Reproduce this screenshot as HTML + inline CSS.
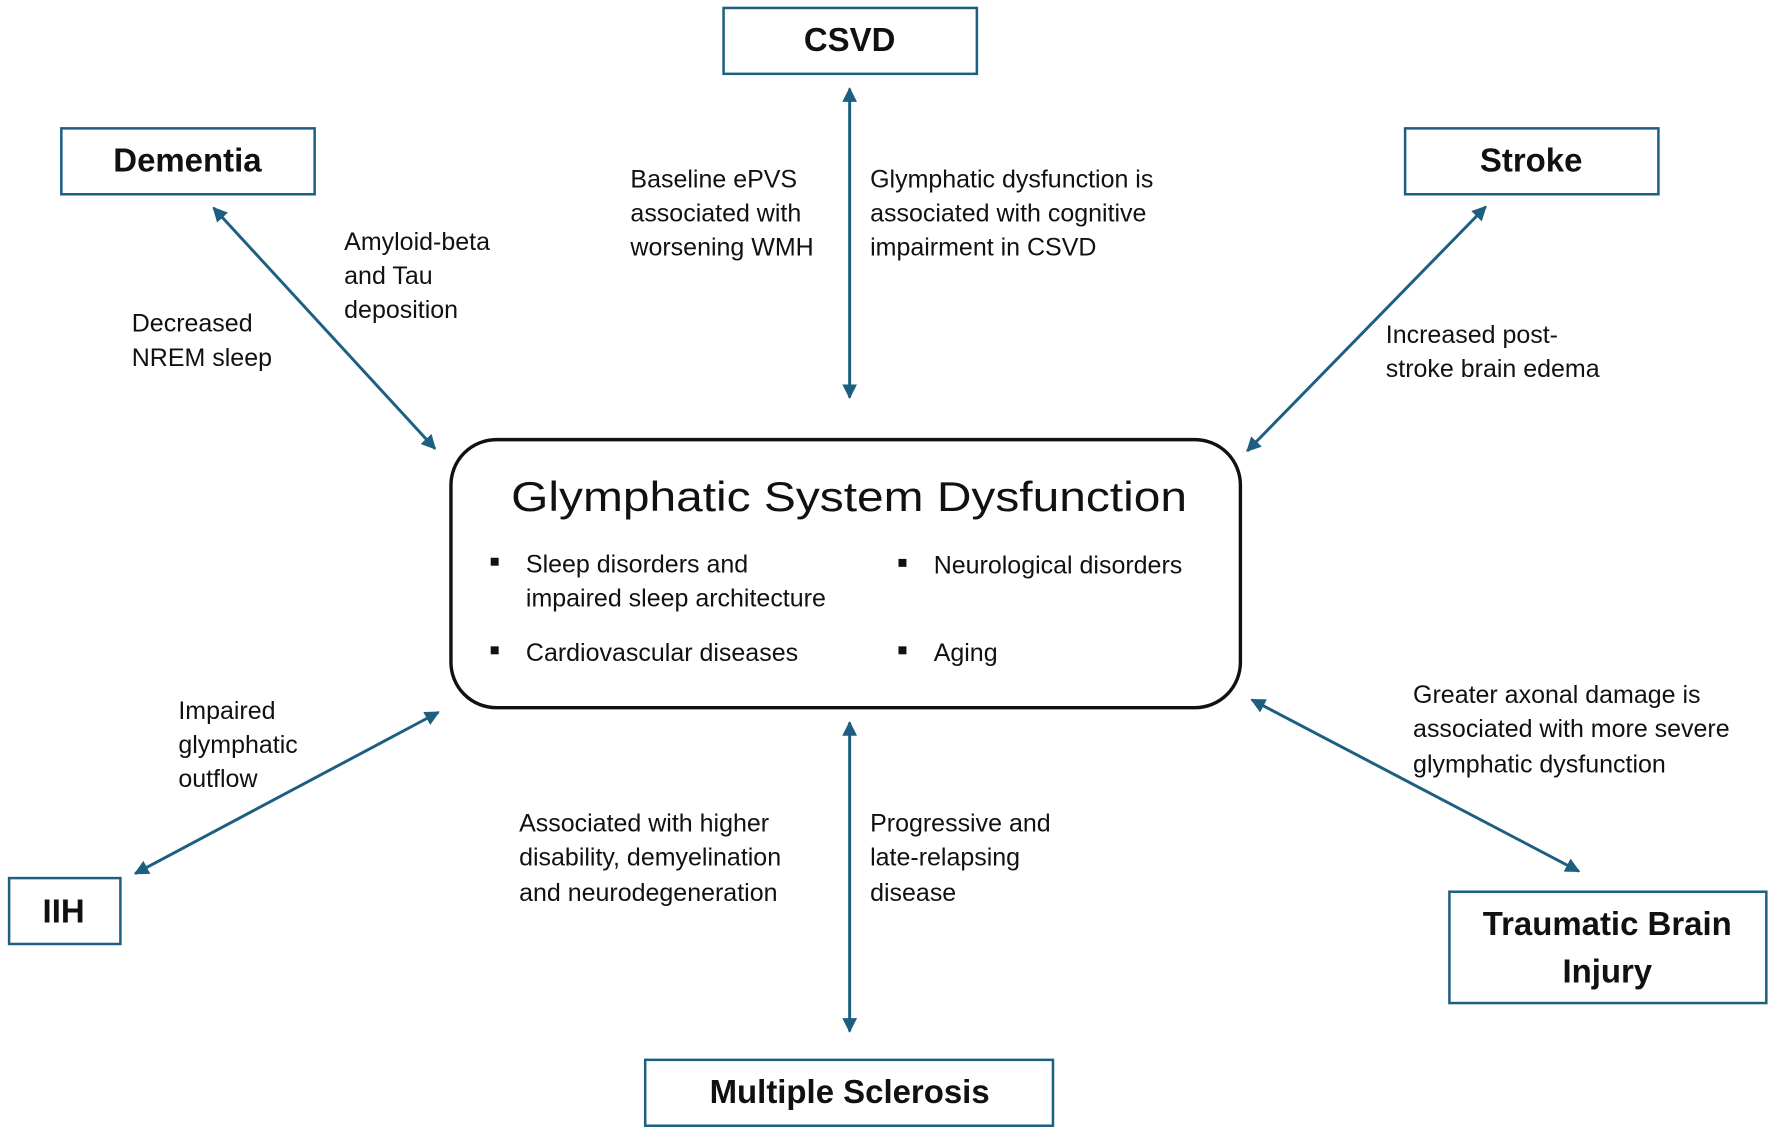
<!DOCTYPE html>
<html><head><meta charset="utf-8"><style>
html,body{margin:0;padding:0;background:#fff;}
svg{display:block;}
text{font-family:"Liberation Sans",sans-serif;fill:#111;}
.t{font-size:22px;}
.b{font-size:29px;font-weight:bold;text-anchor:middle;}
</style></head><body>
<svg width="1772" height="1128" viewBox="0 0 1560 993" preserveAspectRatio="none" xmlns="http://www.w3.org/2000/svg">
<defs>
<marker id="a" viewBox="0 0 10 10" refX="9" refY="5" markerWidth="5" markerHeight="5" orient="auto-start-reverse">
<path d="M0,0 L10,5 L0,10 z" fill="#1d5f80"/></marker>
</defs>
<g fill="#fff" stroke="#1d5f80" stroke-width="2.2">
<rect x="637" y="7" width="223" height="58"/>
<rect x="54" y="113" width="223" height="58"/>
<rect x="1237" y="113" width="223" height="58"/>
<rect x="8" y="773" width="98" height="58"/>
<rect x="1276" y="785" width="279" height="98"/>
<rect x="568" y="933" width="359" height="58"/>
</g>
<rect x="397" y="387" width="695" height="236" rx="40" fill="#fff" stroke="#111" stroke-width="3"/>
<g stroke="#1d5f80" stroke-width="2.6" marker-start="url(#a)" marker-end="url(#a)">
<line x1="748" y1="78" x2="748" y2="350"/>
<line x1="188" y1="183" x2="383" y2="395"/>
<line x1="1308" y1="182" x2="1098" y2="397"/>
<line x1="119" y1="769" x2="386" y2="627"/>
<line x1="1102" y1="616" x2="1390" y2="767"/>
<line x1="748" y1="636" x2="748" y2="908"/>
</g>
<text class="b" x="748" y="45">CSVD</text>
<text class="b" x="165" y="151">Dementia</text>
<text class="b" x="1348" y="151">Stroke</text>
<text class="b" x="56" y="812">IIH</text>
<text class="b" x="1415" y="823">Traumatic Brain</text>
<text class="b" x="1415" y="865">Injury</text>
<text class="b" x="748" y="971">Multiple Sclerosis</text>
<text x="450" y="450" font-size="37" textLength="595" lengthAdjust="spacingAndGlyphs">Glymphatic System Dysfunction</text>
<g fill="#111"><rect x="432" y="491" width="7" height="7"/><rect x="432" y="569" width="7" height="7"/><rect x="791" y="492" width="7" height="7"/><rect x="791" y="569" width="7" height="7"/></g>
<g class="t">
<text class="t" x="463" y="504">Sleep disorders and</text>
<text class="t" x="463" y="534">impaired sleep architecture</text>
<text class="t" x="463" y="582">Cardiovascular diseases</text>
<text class="t" x="822" y="505">Neurological disorders</text>
<text class="t" x="822" y="582">Aging</text>
<text class="t" x="555" y="165">Baseline ePVS</text>
<text class="t" x="555" y="195">associated with</text>
<text class="t" x="555" y="225">worsening WMH</text>
<text class="t" x="766" y="165">Glymphatic dysfunction is</text>
<text class="t" x="766" y="195">associated with cognitive</text>
<text class="t" x="766" y="225">impairment in CSVD</text>
<text class="t" x="303" y="220">Amyloid-beta</text>
<text class="t" x="303" y="250">and Tau</text>
<text class="t" x="303" y="280">deposition</text>
<text class="t" x="116" y="292">Decreased</text>
<text class="t" x="116" y="322">NREM sleep</text>
<text class="t" x="1220" y="302">Increased post-</text>
<text class="t" x="1220" y="332">stroke brain edema</text>
<text class="t" x="157" y="633">Impaired</text>
<text class="t" x="157" y="663">glymphatic</text>
<text class="t" x="157" y="693">outflow</text>
<text class="t" x="457" y="732">Associated with higher</text>
<text class="t" x="457" y="762">disability, demyelination</text>
<text class="t" x="457" y="793">and neurodegeneration</text>
<text class="t" x="766" y="732">Progressive and</text>
<text class="t" x="766" y="762">late-relapsing</text>
<text class="t" x="766" y="793">disease</text>
<text class="t" x="1244" y="619">Greater axonal damage is</text>
<text class="t" x="1244" y="649">associated with more severe</text>
<text class="t" x="1244" y="680">glymphatic dysfunction</text>
</g>
</svg>
</body></html>
